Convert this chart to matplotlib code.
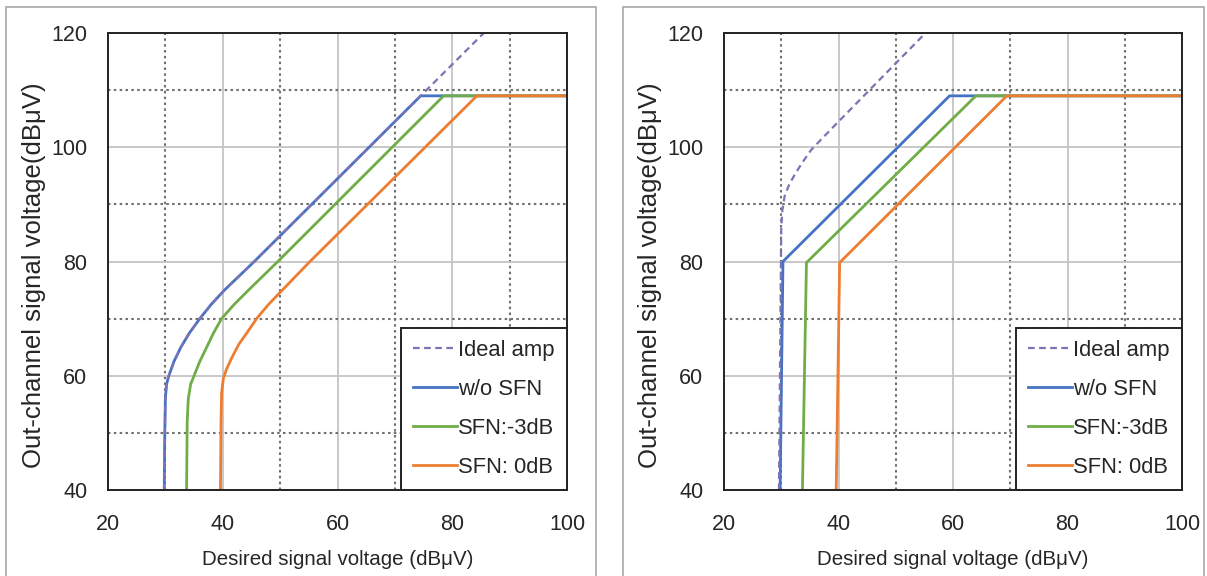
#!/usr/bin/env python
"""Out-channel vs desired signal voltage for an amplifier chain, with and without SFN."""

import matplotlib

matplotlib.use("Agg")
import matplotlib.pyplot as plt
from matplotlib.patches import Rectangle
from matplotlib.ticker import MultipleLocator

plt.rcParams["font.family"] = ["Liberation Sans", "DejaVu Sans"]

# Left panel: curves (desired dBuV, out-channel dBuV)
left_ideal_x = [29.8, 29.9, 30.0, 30.2, 30.6, 31.5, 32.7, 34.2, 36.0, 38.0, 40.3, 45.5, 74.5, 85.5]
left_ideal_y = [40.0, 50.0, 56.0, 58.5, 60.0, 62.5, 65.0, 67.5, 70.0, 72.5, 75.0, 80.0, 109.0, 120.0]

left_wo_x = [29.8, 29.9, 30.0, 30.2, 30.6, 31.5, 32.7, 34.2, 36.0, 38.0, 40.3, 45.5, 74.5, 100.0]
left_wo_y = [40.0, 50.0, 56.0, 58.5, 60.0, 62.5, 65.0, 67.5, 70.0, 72.5, 75.0, 80.0, 109.0, 109.0]

left_m3_x = [33.7, 33.8, 34.0, 34.4, 35.0, 36.0, 37.2, 38.4, 39.8, 42.0, 44.5, 49.6, 78.5, 100.0]
left_m3_y = [40.0, 52.0, 56.0, 58.5, 60.0, 62.5, 65.0, 67.5, 70.0, 72.5, 75.0, 80.0, 109.0, 109.0]

left_0_x = [39.6, 39.7, 39.8, 40.1, 40.6, 41.5, 42.8, 44.2, 45.9, 47.9, 50.0, 55.2, 84.3, 100.0]
left_0_y = [40.0, 52.0, 57.0, 59.5, 61.0, 63.0, 65.5, 67.5, 70.0, 72.4, 74.6, 80.0, 109.0, 109.0]

# Right panel
right_ideal_x = [29.6, 29.9, 30.0, 30.2, 30.6, 31.4, 32.4, 33.6, 35.2, 37.0, 40.3, 45.4, 50.3, 55.2]
right_ideal_y = [40.0, 75.0, 86.0, 89.0, 91.5, 93.5, 95.3, 97.2, 99.5, 101.4, 104.8, 110.0, 115.0, 120.0]

right_wo_x = [29.8, 30.3, 59.4, 100.0]
right_wo_y = [40.0, 80.0, 109.0, 109.0]

right_m3_x = [33.7, 34.4, 64.0, 100.0]
right_m3_y = [40.0, 79.8, 109.0, 109.0]

right_0_x = [39.6, 40.2, 69.4, 100.0]
right_0_y = [40.0, 79.8, 109.0, 109.0]

labels = ["Ideal amp", "w/o SFN", "SFN:-3dB", "SFN: 0dB"]

IDEAL_COLOR = "#7F72B4"
BLUE = "#4472C4"
GREEN = "#70AD47"
ORANGE = "#ED7D31"
TEXT = "#262626"


def draw_panel(ax, ideal, wo, m3, zero):
    ax.plot(*wo, color=BLUE, lw=2.0, label=labels[1], zorder=3)
    ax.plot(*ideal, color=IDEAL_COLOR, lw=1.6, ls=(0, (3, 2)), label=labels[0], zorder=4)
    ax.plot(*m3, color=GREEN, lw=2.0, label=labels[2], zorder=3)
    ax.plot(*zero, color=ORANGE, lw=2.0, label=labels[3], zorder=3)

    ax.set_xlim(20, 100)
    ax.set_ylim(40, 120)
    ax.xaxis.set_major_locator(MultipleLocator(20))
    ax.yaxis.set_major_locator(MultipleLocator(20))
    ax.xaxis.set_minor_locator(MultipleLocator(10))
    ax.yaxis.set_minor_locator(MultipleLocator(10))
    ax.grid(which="major", color="#c4c4c4", lw=1.3, ls="-", zorder=1)
    ax.grid(which="minor", color="#707070", lw=1.5, ls=(0, (1.2, 1.6)), zorder=1)
    ax.tick_params(which="both", length=0)
    ax.tick_params(axis="x", pad=17, labelsize=15.5, labelcolor=TEXT)
    ax.tick_params(axis="y", pad=15, labelsize=15.5, labelcolor=TEXT)
    for spine in ax.spines.values():
        spine.set_color("#222222")
        spine.set_linewidth(1.4)
        spine.set_zorder(5)

    ax.set_xlabel("Desired signal voltage (dB\u03bcV)", fontsize=14.8, color=TEXT, labelpad=11)
    ax.set_ylabel("Out-channel signal voltage(dB\u03bcV)", fontsize=18.5, color=TEXT)
    ax.yaxis.set_label_coords(-0.135, 0.47)

    handles, labs = ax.get_legend_handles_labels()
    order = [labs.index(name) for name in labels]
    leg = ax.legend(
        [handles[i] for i in order],
        [labs[i] for i in order],
        loc="lower right",
        borderaxespad=0.0,
        fontsize=15.8,
        handlelength=2.0,
        handletextpad=0.05,
        labelspacing=0.82,
        borderpad=0.55,
        fancybox=False,
        framealpha=1.0,
        edgecolor="#222222",
    )
    leg.get_frame().set_linewidth(1.4)
    for text in leg.get_texts():
        text.set_color(TEXT)
    leg.set_zorder(6)


fig = plt.figure(figsize=(12.07, 5.76), dpi=100)

# thin grey frames around each panel
for x0, x1 in [(6, 596), (623, 1204)]:
    fig.patches.append(
        Rectangle(
            (x0 / 1207, -0.01), (x1 - x0) / 1207, (576 - 7) / 576 + 0.01,
            transform=fig.transFigure, facecolor="none", edgecolor="#a8a8a8", lw=1.2,
        )
    )

ax_left = fig.add_axes([108 / 1207, 86 / 576, 459 / 1207, 457 / 576])
ax_right = fig.add_axes([724 / 1207, 86 / 576, 458 / 1207, 457 / 576])

draw_panel(
    ax_left,
    (left_ideal_x, left_ideal_y),
    (left_wo_x, left_wo_y),
    (left_m3_x, left_m3_y),
    (left_0_x, left_0_y),
)
draw_panel(
    ax_right,
    (right_ideal_x, right_ideal_y),
    (right_wo_x, right_wo_y),
    (right_m3_x, right_m3_y),
    (right_0_x, right_0_y),
)

fig.savefig("out.png", dpi=100)
plt.close(fig)
